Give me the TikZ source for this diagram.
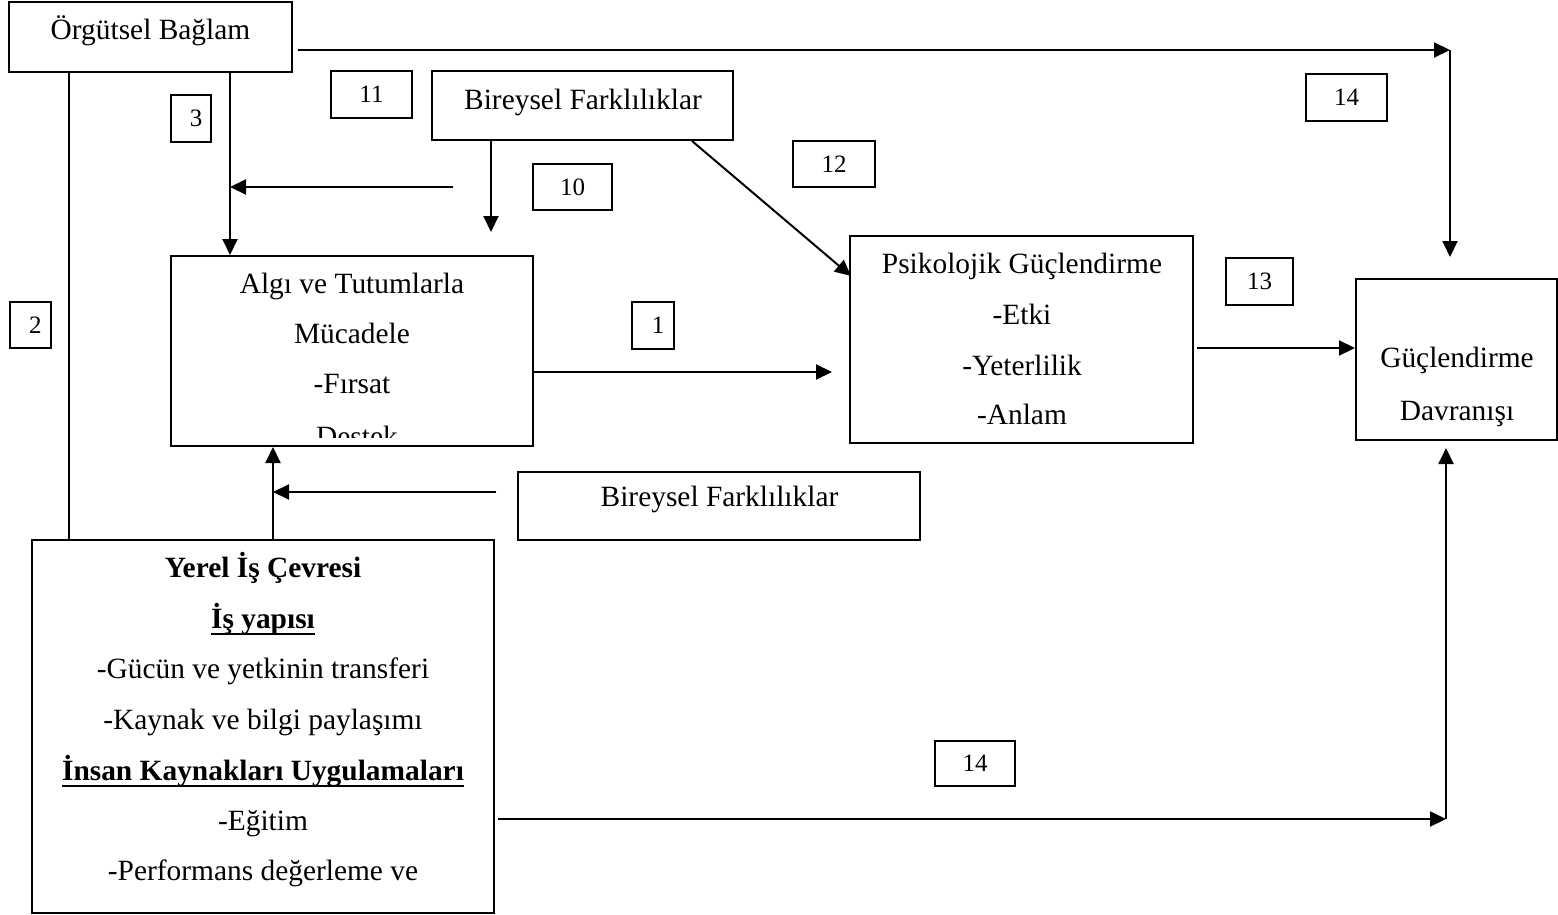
\documentclass[tikz,border=0pt]{standalone}
\usepackage{fontspec}
\setmainfont{Liberation Serif}
\usetikzlibrary{arrows.meta,calc}
\newcommand\ulx[1]{\setbox0\hbox{#1}\rlap{\rule[-3.4pt]{\wd0}{0.9pt}}\box0}
\begin{document}
\begin{tikzpicture}[x=0.5pt,y=-0.5pt,line width=1pt,
  sz/.style 2 args={minimum width=#1*0.5pt,minimum height=#2*0.5pt},
  box/.style={draw,rectangle,inner sep=0pt,line width=1pt},
  numbox/.style={box,font=\fontsize{12.5}{14}\selectfont},
  txt/.style={anchor=base,inner sep=0pt,font=\fontsize{14.7}{17}\selectfont},
  arr/.style={-{Triangle[length=8pt,width=7.5pt]}}]
\useasboundingbox (0,0) rectangle (1558,915);

% main boxes
\node[box,sz={283}{70}] (org) at (150.5,37) {};
\node[txt] (orgt) at (150.5,40) {Örgütsel Bağlam};

\node[box,sz={301}{69}] (bf1) at (582.5,105.5) {};
\node[txt] (bf1t) at (583,110) {Bireysel Farklılıklar};

\node[box,sz={362}{190}] (algi) at (352,351) {};
\node[txt] (algi1) at (352,293) {Algı ve Tutumlarla};
\node[txt] (algi2) at (352,343) {Mücadele};
\node[txt] (algi3) at (352,393) {-Fırsat};
\begin{scope}
  \clip (algi.north west) rectangle ($(algi.south east)+(0,-10)$);
  \node[txt] (algi4) at (357,446) {Destek};
\end{scope}

\node[box,sz={343}{207}] (psi) at (1021.5,339.5) {};
\node[txt] (psi1) at (1022,273) {Psikolojik Güçlendirme};
\node[txt] (psi2) at (1022,324) {-Etki};
\node[txt] (psi3) at (1022,375) {-Yeterlilik};
\node[txt] (psi4) at (1022,424) {-Anlam};

\node[box,sz={201}{161}] (gd) at (1456.5,359.5) {};
\node[txt] (gd1) at (1457,367) {Güçlendirme};
\node[txt] (gd2) at (1457,420) {Davranışı};

\node[box,sz={402}{68}] (bf2) at (719,506) {};
\node[txt] (bf2t) at (719.5,506) {Bireysel Farklılıklar};

\node[box,sz={462}{373}] (yerel) at (263,726.5) {};
\node[txt] (y1t) at (263,577) {\bfseries Yerel İş Çevresi};
\node[txt] (y2t) at (263,628) {\bfseries\ulx{İş yapısı}};
\node[txt] (y3t) at (263,678) {-Gücün ve yetkinin transferi};
\node[txt] (y4t) at (263,729) {-Kaynak ve bilgi paylaşımı};
\node[txt] (y5t) at (263,780) {\bfseries\ulx{İnsan Kaynakları Uygulamaları}};
\node[txt] (y6t) at (263,830) {-Eğitim};
\node[txt] (y7t) at (263,880) {-Performans değerleme ve};

% number boxes
\node[numbox,sz={40}{47}] (n3) at (191,118.5) {\hspace*{5pt}3};
\node[numbox,sz={81}{47}] (n11) at (371.5,94.5) {11};
\node[numbox,sz={79}{46}] (n10) at (572.5,187) {10};
\node[numbox,sz={82}{46}] (n12) at (834,164) {12};
\node[numbox,sz={81}{47}] (n14a) at (1346.5,97.5) {14};
\node[numbox,sz={67}{47}] (n13) at (1259.5,281.5) {13};
\node[numbox,sz={42}{47}] (n1) at (653,325.5) {\hspace*{5pt}1};
\node[numbox,sz={41}{46}] (n2) at (30.5,325) {\hspace*{5pt}2};
\node[numbox,sz={80}{45}] (n14b) at (975,763.5) {14};

% connectors
\draw (org.south west) ++(61,0) coordinate (l2) -- (l2 |- yerel.north);
\draw[arr] (org.south west) ++(222,0) coordinate (l3) -- (l3 |- algi.north);
\coordinate (c10) at (453,187);
\draw[arr] (c10) -- (c10 -| l3);
\draw[arr] (bf1.south west) ++(60,0) coordinate (d0) -- ++(0,91);
\draw[arr] ($(bf1.south west)+(261,0)$) -- ($(psi.north west)+(2,41)$);
\draw[arr] ($(algi.south east)+(0,-75)$) coordinate (a1) -- ($(a1 -| psi.west)+(-17,0)$);
\draw[arr] ($(psi.east)+(3,8.5)$) coordinate (p1) -- (p1 -| gd.west);
\coordinate (tr) at (1450,50);
\draw[arr] ($(org.east)+(5,13)$) -- (tr);
\draw[arr,shorten >=10.5pt] (tr) -- (tr |- gd.north);
\coordinate (br) at (1446,819);
\draw[arr] ($(yerel.east)+(3,92.5)$) -- (br);
\draw[arr,shorten >=3.5pt] (br) -- (br |- gd.south);
\draw[arr] ($(yerel.north west)+(242,0)$) coordinate (y1) -- (y1 |- algi.south);
\draw[arr] ($(bf2.west)+(-21,-14)$) coordinate (k0) -- (k0 -| y1);
\end{tikzpicture}
\end{document}
